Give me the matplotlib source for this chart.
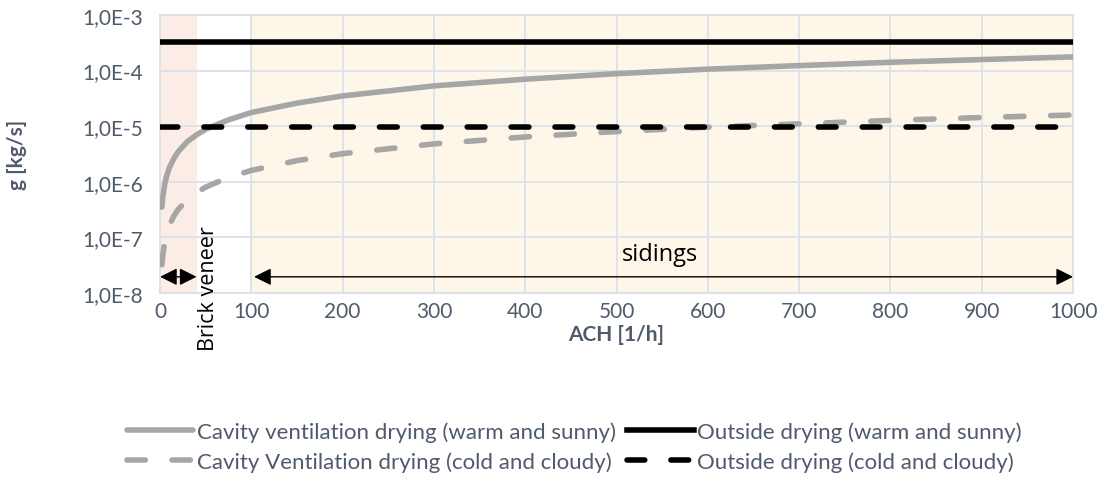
import matplotlib.pyplot as plt
import numpy as np

plt.rcParams['font.family'] = ['Lato', 'DejaVu Sans']

# air changes per hour
ach = [2, 3, 5, 7, 10, 15, 20, 30, 40, 50, 75, 100, 150, 200, 300, 400, 500, 600, 700, 800, 900, 1000]

# cavity ventilation drying
cav_warm = [3.5e-7, 5.3e-7, 8.8e-7, 1.23e-6, 1.76e-6, 2.6e-6, 3.5e-6, 5.3e-6, 7.0e-6, 8.8e-6, 1.3e-5,
            1.76e-5, 2.6e-5, 3.5e-5, 5.3e-5, 7.0e-5, 8.8e-5, 1.06e-4, 1.23e-4, 1.41e-4, 1.58e-4, 1.76e-4]
cav_cold = [3.2e-8, 4.8e-8, 8.0e-8, 1.1e-7, 1.6e-7, 2.4e-7, 3.2e-7, 4.8e-7, 6.4e-7, 8.0e-7, 1.2e-6,
            1.6e-6, 2.4e-6, 3.2e-6, 4.8e-6, 6.4e-6, 8.0e-6, 9.6e-6, 1.1e-5, 1.27e-5, 1.43e-5, 1.59e-5]

# outside drying (constant)
out_warm = 3.3e-4
out_cold = 9.5e-6

x_ticks = [0, 100, 200, 300, 400, 500, 600, 700, 800, 900, 1000]
y_ticks = [1e-8, 1e-7, 1e-6, 1e-5, 1e-4, 1e-3]
y_labels = ["1,0E-8", "1,0E-7", "1,0E-6", "1,0E-5", "1,0E-4", "1,0E-3"]

text_col = '#4f5a6b'
grid_col = '#d9e1ec'

fig = plt.figure(figsize=(11, 4.85), dpi=100)
ax = fig.add_axes([0.1455, 0.394, 0.83, 0.573])

# shaded ranges
ax.axvspan(0, 40, color='#fbede5', zorder=0, lw=0)
ax.axvspan(100, 1000, color='#fef7e9', zorder=0, lw=0)

ax.set_yscale('log')
ax.set_xlim(0, 1000)
ax.set_ylim(1e-8, 1e-3)
ax.set_xticks(x_ticks)
ax.set_yticks(y_ticks)
ax.set_yticklabels(y_labels)
ax.minorticks_off()
ax.grid(True, color=grid_col, lw=1.3, zorder=1)
ax.set_axisbelow(True)
for s in ax.spines.values():
    s.set_color(grid_col)
    s.set_linewidth(1.3)
ax.tick_params(length=0, labelsize=15, colors=text_col)
ax.tick_params(axis='x', pad=6)
ax.tick_params(axis='y', pad=12)

l1, = ax.plot(ach, cav_warm, color='#a6a6a6', lw=4, solid_capstyle='round', zorder=3,
              label="Cavity ventilation drying (warm and sunny)")
l2, = ax.plot([0, 1000], [out_warm, out_warm], color='black', lw=4, zorder=3,
              label="Outside drying (warm and sunny)")
l3, = ax.plot(ach, cav_cold, color='#a6a6a6', lw=4, dashes=(3.3, 4.8), dash_capstyle='round',
              zorder=3, label="Cavity Ventilation drying (cold and cloudy)")
l4, = ax.plot([0, 1000], [out_cold, out_cold], color='black', lw=4, dashes=(3.2, 4.7),
              dash_capstyle='round', zorder=4, label="Outside drying (cold and cloudy)")

ax.set_xlabel("ACH [1/h]", fontsize=15, fontweight='bold', color=text_col, labelpad=2)
ax.set_ylabel("g [kg/s]", fontsize=15, fontweight='bold', color=text_col, labelpad=40)

# range arrows
ax.annotate('', xy=(0, 0.058), xytext=(40, 0.058), xycoords=('data', 'axes fraction'),
            arrowprops=dict(arrowstyle='<|-|>', color='black', lw=1, mutation_scale=26,
                            shrinkA=0, shrinkB=0), annotation_clip=False, zorder=5)
ax.annotate('', xy=(103, 0.058), xytext=(1000, 0.058), xycoords=('data', 'axes fraction'),
            arrowprops=dict(arrowstyle='<|-|>', color='black', lw=1, mutation_scale=26,
                            shrinkA=0, shrinkB=0), annotation_clip=False, zorder=5)

ax.text(53, 0.02, "Brick veneer", transform=ax.get_xaxis_transform(), rotation=90,
        ha='center', va='center', fontsize=15.5, color='black', clip_on=False, zorder=6,
        family=['Open Sans', 'DejaVu Sans'])
ax.text(548, 0.14, "sidings", transform=ax.get_xaxis_transform(), ha='center', va='center',
        fontsize=17, color='black', zorder=6, family=['Open Sans', 'DejaVu Sans'])

# legend fills column-wise, so order the handles to get the reference rows
leg = fig.legend([l1, l3, l2, l4], [l1.get_label(), l3.get_label(), l2.get_label(), l4.get_label()],
                 ncol=2, loc='center', bbox_to_anchor=(0.522, 0.077),
                 frameon=False, fontsize=16, handlelength=3.0, handletextpad=0.15,
                 columnspacing=0.5, labelspacing=0.45)
for t in leg.get_texts():
    t.set_color(text_col)

fig.savefig("out.png", dpi=100)
